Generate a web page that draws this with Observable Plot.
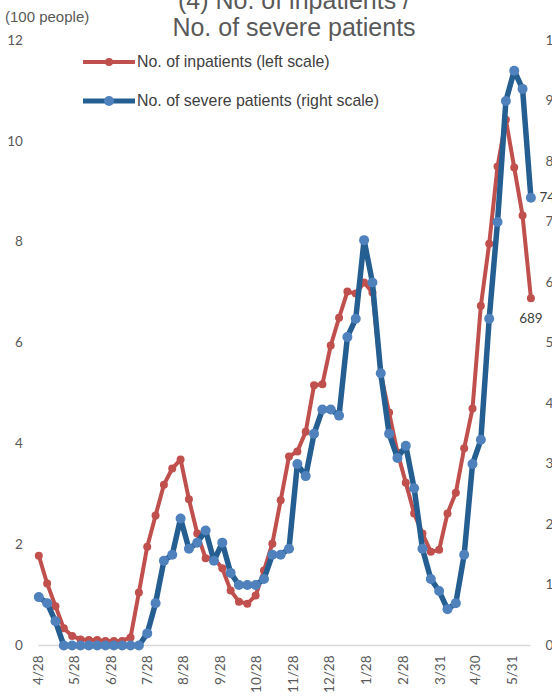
<!DOCTYPE html>
<html>
<head>
<meta charset="utf-8">
<script src="https://cdn.jsdelivr.net/npm/d3@7"></script>
<script src="https://cdn.jsdelivr.net/npm/@observablehq/plot@0.6"></script>
<style>
  html, body { margin: 0; padding: 0; background: #fff; overflow: hidden; }
  #wrap { position: relative; width: 552px; height: 700px; overflow: hidden; }
  #chart { position: absolute; left: 0; top: 0; width: 580px; }
  #chart svg { max-width: none !important; width: 580px !important; height: 700px !important; }
  #title { position: absolute; left: 0; top: -13px; width: 588px; text-align: center;
           font-family: "Liberation Sans", Arial, sans-serif; font-size: 25px; line-height: 27px; color: #595959; }
  #unit { position: absolute; left: 5px; top: 8px; font-family: "Liberation Sans", Arial, sans-serif;
          font-size: 15px; line-height: 18px; color: #595959; }
  .leg { position: absolute; left: 83px; height: 18px; font-family: "Liberation Sans", Arial, sans-serif;
         font-size: 15.9px; color: #404040; display: flex; align-items: center; white-space: nowrap; }
  .leg svg { margin-right: 2px; }
</style>
</head>
<body>
<div id="wrap">
  <div id="chart"></div>
  <div id="title">(4) No. of inpatients /<br>No. of severe patients</div>
  <div id="unit">(100 people)</div>
  <div class="leg" id="leg1" style="top:53px;"></div>
  <div class="leg" id="leg2" style="top:92px;"></div>
</div>
<script>
// Weekly dates
const weeks = [
  "2020-04-28","2020-05-05","2020-05-12","2020-05-19","2020-05-26","2020-06-02","2020-06-09","2020-06-16","2020-06-23","2020-06-30",
  "2020-07-07","2020-07-14","2020-07-21","2020-07-28","2020-08-04","2020-08-11","2020-08-18","2020-08-25","2020-09-01","2020-09-08",
  "2020-09-15","2020-09-22","2020-09-29","2020-10-06","2020-10-13","2020-10-20","2020-10-27","2020-11-03","2020-11-10","2020-11-17",
  "2020-11-24","2020-12-01","2020-12-08","2020-12-15","2020-12-22","2020-12-29","2021-01-05","2021-01-12","2021-01-19","2021-01-26",
  "2021-02-02","2021-02-09","2021-02-16","2021-02-23","2021-03-02","2021-03-09","2021-03-16","2021-03-23","2021-03-30","2021-04-06",
  "2021-04-13","2021-04-20","2021-04-27","2021-05-04","2021-05-11","2021-05-18","2021-05-25","2021-06-01","2021-06-08","2021-06-15"
];
// No. of inpatients (100 people, left scale)
const inpatients = [
  1.78,1.23,0.78,0.34,0.19,0.12,0.11,0.11,0.09,0.09,
  0.09,0.16,1.05,1.96,2.58,3.19,3.51,3.69,2.90,2.22,
  1.73,1.73,1.53,1.09,0.87,0.83,0.99,1.49,2.02,2.88,
  3.75,3.85,4.24,5.16,5.18,5.95,6.50,7.02,6.98,7.20,
  7.00,5.39,4.62,3.83,3.23,2.62,2.22,1.86,1.90,2.62,
  3.03,3.91,4.70,6.74,7.97,9.50,10.43,9.48,8.53,6.89
];
// No. of severe patients (right scale)
const severe = [
  8,7,4,0,0,0,0,0,0,0,
  0,0,0,2,7,14,15,21,16,17,
  19,14,17,12,10,10,10,11,15,15,
  16,30,28,35,39,39,38,51,54,67,
  60,45,35,31,33,26,16,11,9,6,
  7,15,30,34,54,70,90,95,92,74
];
const dateTicks = ["2020-04-28","2020-05-28","2020-06-28","2020-07-28","2020-08-28","2020-09-28","2020-10-28",
  "2020-11-28","2020-12-28","2021-01-28","2021-02-28","2021-03-31","2021-04-30","2021-05-31"];
const leftTicks = [0,2,4,6,8,10,12];
const rightTicks = [0,10,20,30,40,50,60,70,80,90,100];
const seriesNames = ["No. of inpatients (left scale)", "No. of severe patients (right scale)"];

const RED = "#C0504D", BLUE_LINE = "#255E91", BLUE_DOT = "#4F81BD";
const k = 12 / 100; // right scale -> left scale

const rows = weeks.map((w, i) => ({date: new Date(w), inp: inpatients[i], sev: severe[i]}));
const last = rows.slice(-1);

const chart = Plot.plot({
  width: 580, height: 700,
  marginTop: 40, marginBottom: 55, marginLeft: 38.3, marginRight: 49.6,
  style: {fontFamily: "Lato, 'Open Sans', sans-serif", fontSize: "13px", color: "#595959", background: "transparent"},
  x: {type: "utc", domain: [new Date(weeks[0]), new Date(weeks[weeks.length - 1])]},
  y: {domain: [0, 12]},
  marks: [
    Plot.ruleY([0], {stroke: "#D9D9D9", strokeWidth: 1.5}),
    Plot.axisY({anchor: "left", ticks: leftTicks, tickSize: 0, tickPadding: 16, label: null, tickFormat: d => d, fontSize: 13.5}),
    Plot.axisY({anchor: "right", ticks: rightTicks.map(r => r * k), tickSize: 0, tickPadding: 14.5, label: null,
                tickFormat: d => Math.round(d / k), fontSize: 13.5}),
    Plot.axisX({ticks: dateTicks.map(d => new Date(d)), tickSize: 0, tickPadding: 10, tickRotate: -90, label: null,
                tickFormat: d => `${d.getUTCMonth() + 1}/${d.getUTCDate()}`, fontSize: 13.5}),
    Plot.line(rows, {x: "date", y: "inp", stroke: RED, strokeWidth: 4, strokeLinejoin: "round"}),
    Plot.dot(rows, {x: "date", y: "inp", fill: RED, r: 4}),
    Plot.line(rows, {x: "date", y: d => d.sev * k, stroke: BLUE_LINE, strokeWidth: 5.5, strokeLinejoin: "round"}),
    Plot.dot(rows, {x: "date", y: d => d.sev * k, fill: BLUE_DOT, r: 5}),
    Plot.text(last, {x: "date", y: "inp", text: d => Math.round(d.inp * 100), dy: 21, fill: "#404040", fontSize: 13.5}),
    Plot.text(last, {x: "date", y: d => d.sev * k, text: d => d.sev, textAnchor: "start", dx: 8.5, fill: "#404040", fontSize: 13.5})
  ]
});
document.getElementById("chart").appendChild(chart);

function swatch(lineColor, dotColor, w, r) {
  return `<svg width="52" height="18"><line x1="0" y1="9" x2="52" y2="9" stroke="${lineColor}" stroke-width="${w}"/>` +
         `<circle cx="26" cy="9" r="${r}" fill="${dotColor}"/></svg>`;
}
document.getElementById("leg1").innerHTML = swatch(RED, RED, 4, 4) + `<span>${seriesNames[0]}</span>`;
document.getElementById("leg2").innerHTML = swatch(BLUE_LINE, BLUE_DOT, 5, 5) + `<span>${seriesNames[1]}</span>`;
</script>
</body>
</html>
